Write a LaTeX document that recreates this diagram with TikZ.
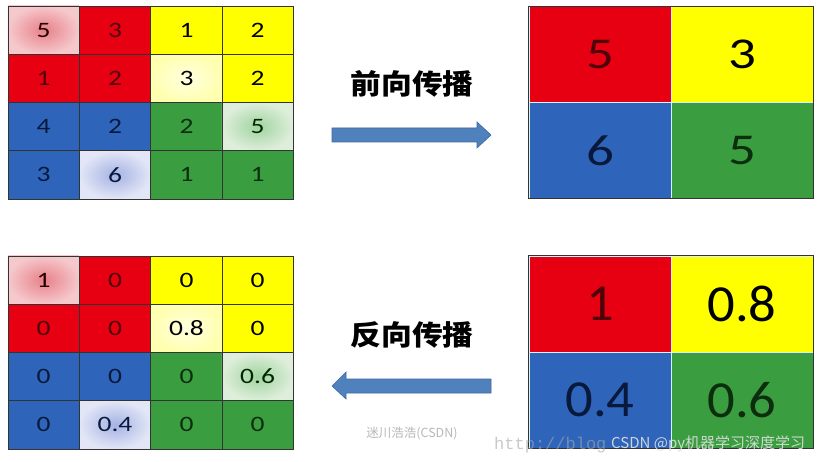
\documentclass[tikz,border=0pt]{standalone}
\usepackage{fontspec}
\setmainfont{Carlito}[FakeStretch=1.25]
\newfontfamily\plaindigit{Carlito}[FakeStretch=1.05]
\newfontfamily\cjk{Noto Sans CJK SC}
\newfontfamily\cjkwide{Noto Sans CJK SC}[FakeStretch=1.1]
\newfontfamily\wmono{Liberation Mono}
\definecolor{cred}{RGB}{230,0,18}
\definecolor{cyel}{RGB}{255,255,0}
\definecolor{cblue}{RGB}{46,101,186}
\definecolor{cgreen}{RGB}{58,157,64}
\definecolor{tred}{RGB}{80,0,8}
\definecolor{tblue}{RGB}{8,25,60}
\definecolor{tgreen}{RGB}{12,45,14}
\definecolor{arrowfill}{RGB}{79,129,189}
\definecolor{arrowline}{RGB}{62,104,160}
\definecolor{pinkin}{RGB}{232,128,138}
\definecolor{pinkout}{RGB}{245,200,203}
\definecolor{yelin}{RGB}{255,255,225}
\definecolor{yelout}{RGB}{255,255,175}
\definecolor{grnin}{RGB}{160,212,160}
\definecolor{grnout}{RGB}{222,238,218}
\definecolor{bluin}{RGB}{165,178,228}
\definecolor{bluout}{RGB}{226,230,246}
\tikzset{
  smallcell/.style={rectangle, draw=black!80, line width=0.8pt, inner sep=0pt,
    minimum width=71.25pt, minimum height=48.25pt, font=\fontsize{22}{22}\selectfont},
  bigcell/.style={rectangle, draw=white!85!cyan, line width=0.9pt, inner sep=0pt,
    minimum width=142pt, minimum height=96pt, font=\fontsize{44}{44}\selectfont},
  bigcelltwo/.style={bigcell, font=\plaindigit\fontsize{52}{52}\selectfont},
  inred/.style={fill=cred, text=tred},
  inyel/.style={fill=cyel, text=black},
  inblue/.style={fill=cblue, text=tblue},
  ingreen/.style={fill=cgreen, text=tgreen},
  pinkmax/.style={inner color=pinkin, outer color=pinkout, text=black!85!red},
  yelmax/.style={inner color=yelin, outer color=yelout, text=black},
  grnmax/.style={inner color=grnin, outer color=grnout, text=black!85!green},
  blumax/.style={inner color=bluin, outer color=bluout, text=tblue},
  blockarrow/.style={fill=arrowfill, draw=arrowline, line width=0.6pt},
  title/.style={font=\cjkwide\bfseries\fontsize{28}{28}\selectfont, text=black},
  wmark/.style={text=black!28, font=\cjk\fontsize{12.5}{12.5}\selectfont}
}
\begin{document}
\begin{tikzpicture}[x=1pt,y=-1pt]
\fill[white] (0,0) rectangle (840,462);
\useasboundingbox (0,0) rectangle (840,462);
% ---------- top-left grid ----------
\node[smallcell,pinkmax] (a11) at (43.6,30.1) {5};
\node[smallcell,inred]   (a12) at (115.0,30.1) {3};
\node[smallcell,inyel]   (a13) at (186.5,30.1) {1};
\node[smallcell,inyel]   (a14) at (257.6,30.1) {2};
\node[smallcell,inred]   (a21) at (43.6,78.4) {1};
\node[smallcell,inred]   (a22) at (115.0,78.4) {2};
\node[smallcell,yelmax]  (a23) at (186.5,78.4) {3};
\node[smallcell,inyel]   (a24) at (257.6,78.4) {2};
\node[smallcell,inblue]  (a31) at (43.6,126.6) {4};
\node[smallcell,inblue]  (a32) at (115.0,126.6) {2};
\node[smallcell,ingreen] (a33) at (186.5,126.6) {2};
\node[smallcell,grnmax]  (a34) at (257.6,126.6) {5};
\node[smallcell,inblue]  (a41) at (43.6,174.9) {3};
\node[smallcell,blumax]  (a42) at (115.0,174.9) {6};
\node[smallcell,ingreen] (a43) at (186.5,174.9) {1};
\node[smallcell,ingreen] (a44) at (257.6,174.9) {1};
% ---------- bottom-left grid ----------
\node[smallcell,pinkmax] (b11) at (43.6,280.1) {1};
\node[smallcell,inred]   (b12) at (115.0,280.1) {0};
\node[smallcell,inyel]   (b13) at (186.5,280.1) {0};
\node[smallcell,inyel]   (b14) at (257.6,280.1) {0};
\node[smallcell,inred]   (b21) at (43.6,328.4) {0};
\node[smallcell,inred]   (b22) at (115.0,328.4) {0};
\node[smallcell,yelmax]  (b23) at (186.5,328.4) {0.8};
\node[smallcell,inyel]   (b24) at (257.6,328.4) {0};
\node[smallcell,inblue]  (b31) at (43.6,376.6) {0};
\node[smallcell,inblue]  (b32) at (115.0,376.6) {0};
\node[smallcell,ingreen] (b33) at (186.5,376.6) {0};
\node[smallcell,grnmax]  (b34) at (257.6,376.6) {0.6};
\node[smallcell,inblue]  (b41) at (43.6,424.9) {0};
\node[smallcell,blumax]  (b42) at (115.0,424.9) {0.4};
\node[smallcell,ingreen] (b43) at (186.5,424.9) {0};
\node[smallcell,ingreen] (b44) at (257.6,424.9) {0};
% ---------- top-right grid ----------
\node[bigcell,inred]   (c11) at (600,54.5) {5};
\node[bigcell,inyel]   (c12) at (742,54.5) {3};
\node[bigcell,inblue]  (c21) at (600,150.5) {6};
\node[bigcell,ingreen] (c22) at (742,150.5) {5};
\draw[black!80, line width=0.9pt] (c11.north west) rectangle (c22.south east);
% ---------- bottom-right grid ----------
\node[bigcelltwo,inred]   (d11) at (600,304) {1};
\node[bigcelltwo,inyel]   (d12) at (742,304) {0.8};
\node[bigcelltwo,inblue]  (d21) at (600,400) {0.4};
\node[bigcelltwo,ingreen] (d22) at (742,400) {0.6};
\draw[black!80, line width=0.9pt] (d11.north west) rectangle (d22.south east);
% ---------- titles ----------
\node[title] (fwd) at (412,84) {前向传播};
\node[title] (bwd) at (412,335) {反向传播};
% ---------- block arrows ----------
\draw[blockarrow] (332,128) -- (477,128) -- (477,122) -- (491,135) -- (477,148)
  -- (477,142) -- (332,142) -- cycle;
\draw[blockarrow] (491,379) -- (346,379) -- (346,372) -- (332,386) -- (346,399)
  -- (346,393) -- (491,393) -- cycle;
% ---------- watermarks ----------
\node[wmark] (wm1) at (412,434) {迷川浩浩(CSDN)};
\node[anchor=west, inner sep=0pt, text=black!35, opacity=0.6,
  font=\wmono\fontsize{17}{17}\selectfont] (wm2) at (494,445) {http://blog};
\node[anchor=west, inner sep=0pt, text=white!88!black, opacity=0.9,
  font=\cjk\fontsize{15}{15}\selectfont] (wm3) at (611,444) {CSDN @py机器学习深度学习};
\end{tikzpicture}
\end{document}
